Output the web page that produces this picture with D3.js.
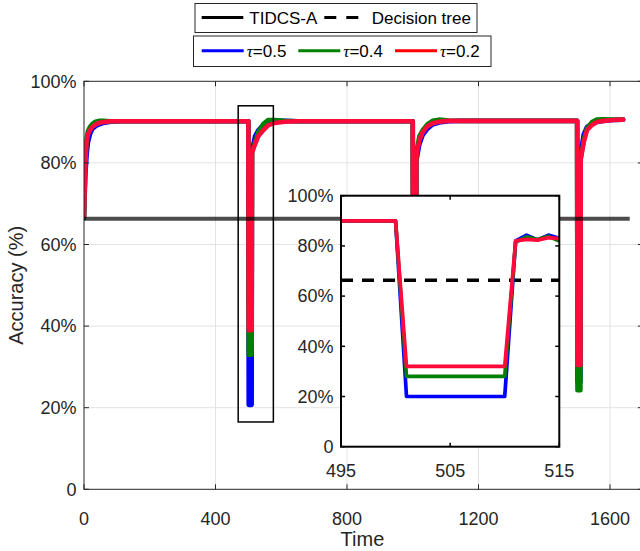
<!DOCTYPE html>
<html><head><meta charset="utf-8">
<script src="https://cdn.jsdelivr.net/npm/d3@7"></script>
<style>body{margin:0;background:#fff} svg{display:block}</style>
</head><body><svg id="c" width="640" height="551"></svg>
<script>
// ---------- data ----------
const mainTime = [0,4,8,12,18,25,35,45,60,80,110,500,501,510,511,520,530,545,560,580,610,650,1000,1001,1010,1011,1020,1030,1045,1060,1080,1110,1150,1500,1501,1510,1511,1520,1530,1545,1560,1580,1610,1640];
const acc05 = [66.5,77,82,85,87,88.3,89,89.4,89.8,90.1,90.2,90.2,20.7,20.7,83,86.5,88,89.3,90,90.3,90.3,90.2,90.2,45,45,80.5,84.5,86.8,88.4,89.4,89.9,90.2,90.3,90.3,26.3,26.3,82.5,87,88.8,89.6,90,90.3,90.5,90.6];
const acc04 = [66.5,80,86,87.8,88.8,89.5,90.1,90.3,90.3,90.2,90.2,90.2,33,33,82.5,85,87.5,89.5,90.5,90.5,90.3,90.2,90.2,45,45,82.5,86.5,88,89.5,90.3,90.6,90.4,90.3,90.3,24.3,24.3,81,85.5,88.5,90,90.6,90.7,90.6,90.6];
const acc02 = [67,80,85.5,87,88,88.8,89.4,89.8,90,90.2,90.2,90.2,39,39,82.5,84.5,86.5,88,89.2,89.8,90.1,90.2,90.2,45,45,81.5,85.5,87.5,89,89.7,90.1,90.3,90.3,90.3,30.5,30.5,81,85,88,89.3,90,90.3,90.5,90.6];

const insetTime = [495,500,501,510,511,512,513,514,515];
const inset05 = [90,90,20,20,82,84.3,82.4,84.3,83];
const inset04 = [90,90,28,28,81.5,83.6,82.5,83.8,81.9];
const inset02 = [90,90,32,32,82,82.6,82.3,83.3,82.9];

const decisionTree = 66.3;
const refLineEnd = 1660;
const zoomWindow = [469, 576, 16.5, 94]; // t0, t1, v0, v1

const xTicks = [0,400,800,1200,1600];
const yTicks = [0,20,40,60,80,100];
const yTickLabels = ["0","20%","40%","60%","80%","100%"];
const insetXTicks = [495,505,515];
const seriesLabels = ["0.5","0.4","0.2"];
const legend1Labels = ["TIDCS-A","Decision tree"];

// ---------- drawing ----------
const svg = d3.select("#c");
const plotColors = ["#0000ff","#008000","#ff0a3a"];
const legendColors = ["#0000ff","#008000","#ff0000"];
const FONT = "'Liberation Sans', Arial, Helvetica, sans-serif";
const AX = "#262626";

const x = d3.scaleLinear().domain([0,1700]).range([84, 84+1700*0.32875]);
const y = d3.scaleLinear().domain([0,100]).range([489.3, 81.3]);

svg.append("defs").append("clipPath").attr("id","mainclip")
  .append("rect").attr("x",84).attr("y",81.3).attr("width",640-84).attr("height",408);

// grid
const g = svg.append("g");
g.selectAll(".vg").data(xTicks.filter(t=>t>0)).join("line")
  .attr("x1",d=>x(d)).attr("x2",d=>x(d)).attr("y1",y(0)).attr("y2",y(100))
  .attr("stroke","#e3e3e3").attr("stroke-width",1);
g.selectAll(".hg").data(yTicks.filter(t=>t>0&&t<100)).join("line")
  .attr("x1",x(0)).attr("x2",x(1700)).attr("y1",d=>y(d)).attr("y2",d=>y(d))
  .attr("stroke","#e3e3e3").attr("stroke-width",1);

// series
const mainLine = d3.line().x((d,i)=>x(mainTime[i])).y(d=>y(d));
const mg = svg.append("g").attr("clip-path","url(#mainclip)");
[acc05,acc04,acc02].forEach((s,k)=>{
  mg.append("path").attr("d",mainLine(s)).attr("fill","none")
    .attr("stroke",plotColors[k]).attr("stroke-width",4.6)
    .attr("stroke-linejoin","round").attr("stroke-linecap","round");
});
// reference line
mg.append("line").attr("x1",x(0)).attr("x2",x(refLineEnd))
  .attr("y1",y(decisionTree)).attr("y2",y(decisionTree))
  .attr("stroke","#000").attr("stroke-opacity",0.7).attr("stroke-width",4);

// zoom window rectangle
svg.append("rect").attr("x",x(zoomWindow[0])).attr("y",y(zoomWindow[3]))
  .attr("width",x(zoomWindow[1])-x(zoomWindow[0])).attr("height",y(zoomWindow[2])-y(zoomWindow[3]))
  .attr("fill","none").attr("stroke","#000").attr("stroke-width",1.5);

// axes box
const ax = svg.append("g");
ax.append("rect").attr("x",x(0)).attr("y",y(100)).attr("width",x(1700)-x(0)).attr("height",y(0)-y(100))
  .attr("fill","none").attr("stroke",AX).attr("stroke-width",1);
const TL = 5;
xTicks.forEach(t=>{
  ax.append("line").attr("x1",x(t)).attr("x2",x(t)).attr("y1",y(0)).attr("y2",y(0)-TL).attr("stroke",AX);
  ax.append("line").attr("x1",x(t)).attr("x2",x(t)).attr("y1",y(100)).attr("y2",y(100)+TL).attr("stroke",AX);
});
yTicks.forEach(t=>{
  ax.append("line").attr("x1",x(0)).attr("x2",x(0)+TL).attr("y1",y(t)).attr("y2",y(t)).attr("stroke",AX);
  ax.append("line").attr("x1",x(1700)).attr("x2",x(1700)-TL).attr("y1",y(t)).attr("y2",y(t)).attr("stroke",AX);
});
ax.selectAll(".xl").data(xTicks).join("text")
  .attr("x",d=>x(d)).attr("y",525).attr("text-anchor","middle")
  .attr("font-family",FONT).attr("font-size",18).attr("fill",AX).text(d=>d);
ax.selectAll(".yl").data(yTicks).join("text")
  .attr("x",76.5).attr("y",d=>y(d)).attr("dy","0.35em").attr("text-anchor","end")
  .attr("font-family",FONT).attr("font-size",18).attr("fill",AX).text((d,i)=>yTickLabels[i]);
svg.append("text").attr("x",x(0)+(x(1700)-x(0))/2 - 1).attr("y",546).attr("text-anchor","middle")
  .attr("font-family",FONT).attr("font-size",20).attr("fill",AX).text("Time");
svg.append("text").attr("transform",`translate(23,${(y(0)+y(100))/2}) rotate(-90)`).attr("text-anchor","middle")
  .attr("font-family",FONT).attr("font-size",20).attr("fill",AX).text("Accuracy (%)");

// ---------- inset ----------
const ix = d3.scaleLinear().domain([495,515]).range([341, 559.3]);
const iy = d3.scaleLinear().domain([0,100]).range([446.7, 195.7]);
svg.select("defs").append("clipPath").attr("id","insetclip")
  .append("rect").attr("x",ix(495)).attr("y",iy(100)).attr("width",ix(515)-ix(495)).attr("height",iy(0)-iy(100));
const ig = svg.append("g");
ig.append("rect").attr("x",ix(495)).attr("y",iy(100)).attr("width",ix(515)-ix(495)).attr("height",iy(0)-iy(100))
  .attr("fill","#fff");
const icl = ig.append("g").attr("clip-path","url(#insetclip)");
icl.append("line").attr("x1",ix(495)).attr("x2",ix(515)).attr("y1",iy(decisionTree)).attr("y2",iy(decisionTree))
  .attr("stroke","#000").attr("stroke-width",3.5).attr("stroke-dasharray","12,9");
const insetLine = d3.line().x((d,i)=>ix(insetTime[i])).y(d=>iy(d));
[inset05,inset04,inset02].forEach((s,k)=>{
  icl.append("path").attr("d",insetLine(s)).attr("fill","none")
    .attr("stroke",plotColors[k]).attr("stroke-width",3.7).attr("stroke-linejoin","round");
});
ig.append("rect").attr("x",ix(495)).attr("y",iy(100)).attr("width",ix(515)-ix(495)).attr("height",iy(0)-iy(100))
  .attr("fill","none").attr("stroke","#000").attr("stroke-width",2);
insetXTicks.forEach(t=>{
  ig.append("line").attr("x1",ix(t)).attr("x2",ix(t)).attr("y1",iy(0)).attr("y2",iy(0)-4).attr("stroke","#000").attr("stroke-width",1.5);
  ig.append("line").attr("x1",ix(t)).attr("x2",ix(t)).attr("y1",iy(100)).attr("y2",iy(100)+4).attr("stroke","#000").attr("stroke-width",1.5);
});
yTicks.forEach(t=>{
  ig.append("line").attr("x1",ix(495)).attr("x2",ix(495)+4).attr("y1",iy(t)).attr("y2",iy(t)).attr("stroke","#000").attr("stroke-width",1.5);
  ig.append("line").attr("x1",ix(515)).attr("x2",ix(515)-4).attr("y1",iy(t)).attr("y2",iy(t)).attr("stroke","#000").attr("stroke-width",1.5);
});
ig.selectAll(".ixl").data(insetXTicks).join("text")
  .attr("x",d=>ix(d)).attr("y",477).attr("text-anchor","middle")
  .attr("font-family",FONT).attr("font-size",18).attr("fill",AX).text(d=>d);
ig.selectAll(".iyl").data(yTicks).join("text")
  .attr("x",333.5).attr("y",d=>iy(d)).attr("dy","0.35em").attr("text-anchor","end")
  .attr("font-family",FONT).attr("font-size",18).attr("fill",AX).text((d,i)=>yTickLabels[i]);

// ---------- legends ----------
const lg = svg.append("g");
lg.append("rect").attr("x",195).attr("y",3.5).attr("width",282).attr("height",29)
  .attr("fill","#fff").attr("stroke","#262626").attr("stroke-width",1);
lg.append("line").attr("x1",201.7).attr("x2",243.3).attr("y1",17.5).attr("y2",17.5).attr("stroke","#000").attr("stroke-width",3);
lg.append("text").attr("x",249.3).attr("y",17.5).attr("dy","0.36em").attr("font-family",FONT).attr("font-size",17).attr("fill","#000").text(legend1Labels[0]);
lg.append("line").attr("x1",324.3).attr("x2",358.3).attr("y1",17.5).attr("y2",17.5).attr("stroke","#000").attr("stroke-width",3).attr("stroke-dasharray","12,10");
lg.append("text").attr("x",371.7).attr("y",17.5).attr("dy","0.36em").attr("font-family",FONT).attr("font-size",17).attr("fill","#000").text(legend1Labels[1]);

lg.append("rect").attr("x",193.5).attr("y",36).attr("width",297.5).attr("height",30.5)
  .attr("fill","#fff").attr("stroke","#262626").attr("stroke-width",1);
const l2x = [201.7, 298.3, 395];
seriesLabels.forEach((lab,k)=>{
  lg.append("line").attr("x1",l2x[k]).attr("x2",l2x[k]+42).attr("y1",50.7).attr("y2",50.7)
    .attr("stroke",legendColors[k]).attr("stroke-width",3);
  const t = lg.append("text").attr("x",l2x[k]+45).attr("y",50.7).attr("dy","0.36em")
    .attr("font-family",FONT).attr("font-size",17).attr("fill","#000");
  t.append("tspan").attr("font-family","'Liberation Serif','DejaVu Serif',serif").attr("font-style","italic").text("τ");
  t.append("tspan").text("=" + lab);
});
</script></body></html>
